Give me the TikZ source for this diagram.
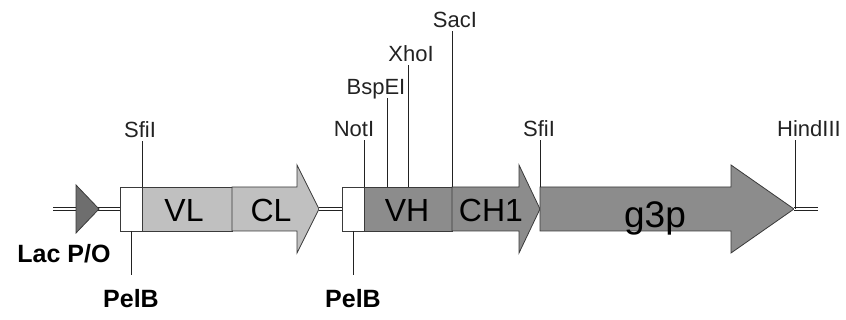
\documentclass[tikz,border=0pt]{standalone}
\usepackage{fontspec}
\setsansfont{Liberation Sans}
\usetikzlibrary{calc,positioning}
\definecolor{ink}{HTML}{222222}
\definecolor{outline}{HTML}{3A3A3A}
\definecolor{paper}{HTML}{FFFFFF}
\definecolor{lightgene}{HTML}{C0C0C0}
\definecolor{darkgene}{HTML}{8C8C8C}
\definecolor{promo}{HTML}{6E6E6E}
\tikzset{
  font=\sffamily,
  backbone/.style={
    draw=ink,
    double=paper,
    double distance=2pt,
    line width=1.1pt
  },
  part/.style={
    rectangle,
    draw=outline,
    line width=0.8pt,
    line join=miter,
    outer sep=0pt,
    inner sep=0pt,
    minimum height=44
  },
  leader_part/.style={part, fill=paper, minimum width=22},
  light_part/.style={part, fill=lightgene},
  dark_part/.style={part, fill=darkgene},
  promoter/.style={part, fill=promo},
  site/.style={draw=ink, line width=0.8pt},
  sitetext/.style={
    font=\sffamily\fontsize{22}{22}\selectfont,
    text=ink,
    inner xsep=0pt,
    inner ysep=3pt,
    text depth=0pt
  },
  parttext/.style={
    font=\sffamily\fontsize{32}{32}\selectfont,
    text=black,
    inner sep=0pt
  },
  elemtext/.style={
    font=\sffamily\bfseries\fontsize{25}{25}\selectfont,
    text=black,
    inner sep=0pt
  }
}

\begin{document}
\begin{tikzpicture}[x=1pt,y=1pt]
  \useasboundingbox (0,0) rectangle (846,320);

  % ============================================================
  % Light-chain cassette: PelB leader, VL, CL
  % ============================================================
  \coordinate (bb_start) at (53,111);
  \node[leader_part, anchor=west] (pelb_a) at (120,111) {};
  \draw[backbone] (bb_start) -- (pelb_a.west);

  % Lac promoter/operator triangle sits on the backbone
  \coordinate (lac) at (76,111);
  \draw[promoter] (lac) ++(0,24) -- ++(23,-24) -- ++(-23,-24) -- cycle;

  \node[light_part, minimum width=90, right=0pt of pelb_a] (vl) {};
  \draw[light_part] (vl.north east) -- ++(65,0) -- ++(0,22)
       -- ++(22,-44) coordinate (cl_tip) -- ++(-22,-44) -- ++(0,22)
       -- (vl.south east) -- cycle;

  \node[parttext, anchor=base] (vl_txt) at (184,98) {VL};
  \node[parttext, anchor=base] (cl_txt) at (271,98) {CL};

  % ============================================================
  % Heavy-chain cassette: PelB leader, VH, CH1, then g3p fusion
  % ============================================================
  \node[leader_part, anchor=west] (pelb_b) at (342,111) {};
  \draw[backbone] (cl_tip) -- (pelb_b.west);

  \node[dark_part, minimum width=88, right=0pt of pelb_b] (vh) {};
  \draw[dark_part] (vh.north east) -- ++(67,0) -- ++(0,22)
       -- ++(21,-44) coordinate (ch1_tip) -- ++(-21,-44) -- ++(0,22)
       -- (vh.south east) -- cycle;

  % g3p starts where the CH1 arrow ends
  \coordinate (g3p_start) at (ch1_tip |- vh.north);
  \draw[dark_part] (g3p_start) -- ++(191,0) -- ++(0,22)
       -- ++(63,-44) coordinate (g3p_tip) -- ++(-63,-44) -- ++(0,22)
       -- ++(-191,0) -- cycle;

  \coordinate (bb_end) at (818,111);
  \draw[backbone] (g3p_tip) -- (bb_end);

  \node[parttext, anchor=base] (vh_txt) at (407,98) {VH};
  \node[parttext, anchor=base] (ch1_txt) at (491,98) {CH1};
  \node[parttext, anchor=base, font=\sffamily\fontsize{37}{37}\selectfont]
       (g3p_txt) at (655,92) {g3p};

  % ============================================================
  % Restriction sites (above the construct)
  % ============================================================
  \coordinate (sfi_a) at (pelb_a.north east);
  \coordinate (not) at (pelb_b.north east);
  \coordinate (bsp) at ($(vh.north west)+(23,0)$);
  \coordinate (xho) at ($(vh.north west)+(44,0)$);
  \coordinate (sac) at (vh.north east);
  \coordinate (sfi_b) at (g3p_start);
  \coordinate (hind) at ($(g3p_tip)+(1,0)$);

  \node[sitetext, anchor=base] (sfi_a_lbl) at (140,182) {SfiI};
  \node[sitetext, anchor=base] (not_lbl) at (354,183) {NotI};
  \node[sitetext, anchor=base] (bsp_lbl) at (376,225) {BspEI};
  \node[sitetext, anchor=base] (xho_lbl) at (411,258) {XhoI};
  \node[sitetext, anchor=base] (sac_lbl) at (455,292) {SacI};
  \node[sitetext, anchor=base] (sfi_b_lbl) at (539,183) {SfiI};
  \node[sitetext, anchor=base] (hind_lbl) at (809,183) {HindIII};

  \draw[site] (sfi_a) -- (sfi_a |- sfi_a_lbl.south);
  \draw[site] (not) -- (not |- not_lbl.south);
  \draw[site] (bsp) -- (bsp |- bsp_lbl.south);
  \draw[site] (xho) -- (xho |- xho_lbl.south);
  \draw[site] (sac) -- (sac |- sac_lbl.south);
  \draw[site] (sfi_b) -- (sfi_b |- sfi_b_lbl.south);
  \draw[site] (hind) -- (hind |- hind_lbl.south);

  % ============================================================
  % Elements named below the construct
  % ============================================================
  \node[elemtext, anchor=base] (lac_lbl) at (64,57) {Lac P/O};
  \node[elemtext, anchor=base] (pelb_a_lbl) at (pelb_a.south |- 0,12) {PelB};
  \node[elemtext, anchor=base] (pelb_b_lbl) at (pelb_b.south |- 0,12) {PelB};

  \draw[site, shorten >=15pt] (pelb_a.south) -- (pelb_a_lbl.north);
  \draw[site, shorten >=15pt] (pelb_b.south) -- (pelb_b_lbl.north);

\end{tikzpicture}
\end{document}
